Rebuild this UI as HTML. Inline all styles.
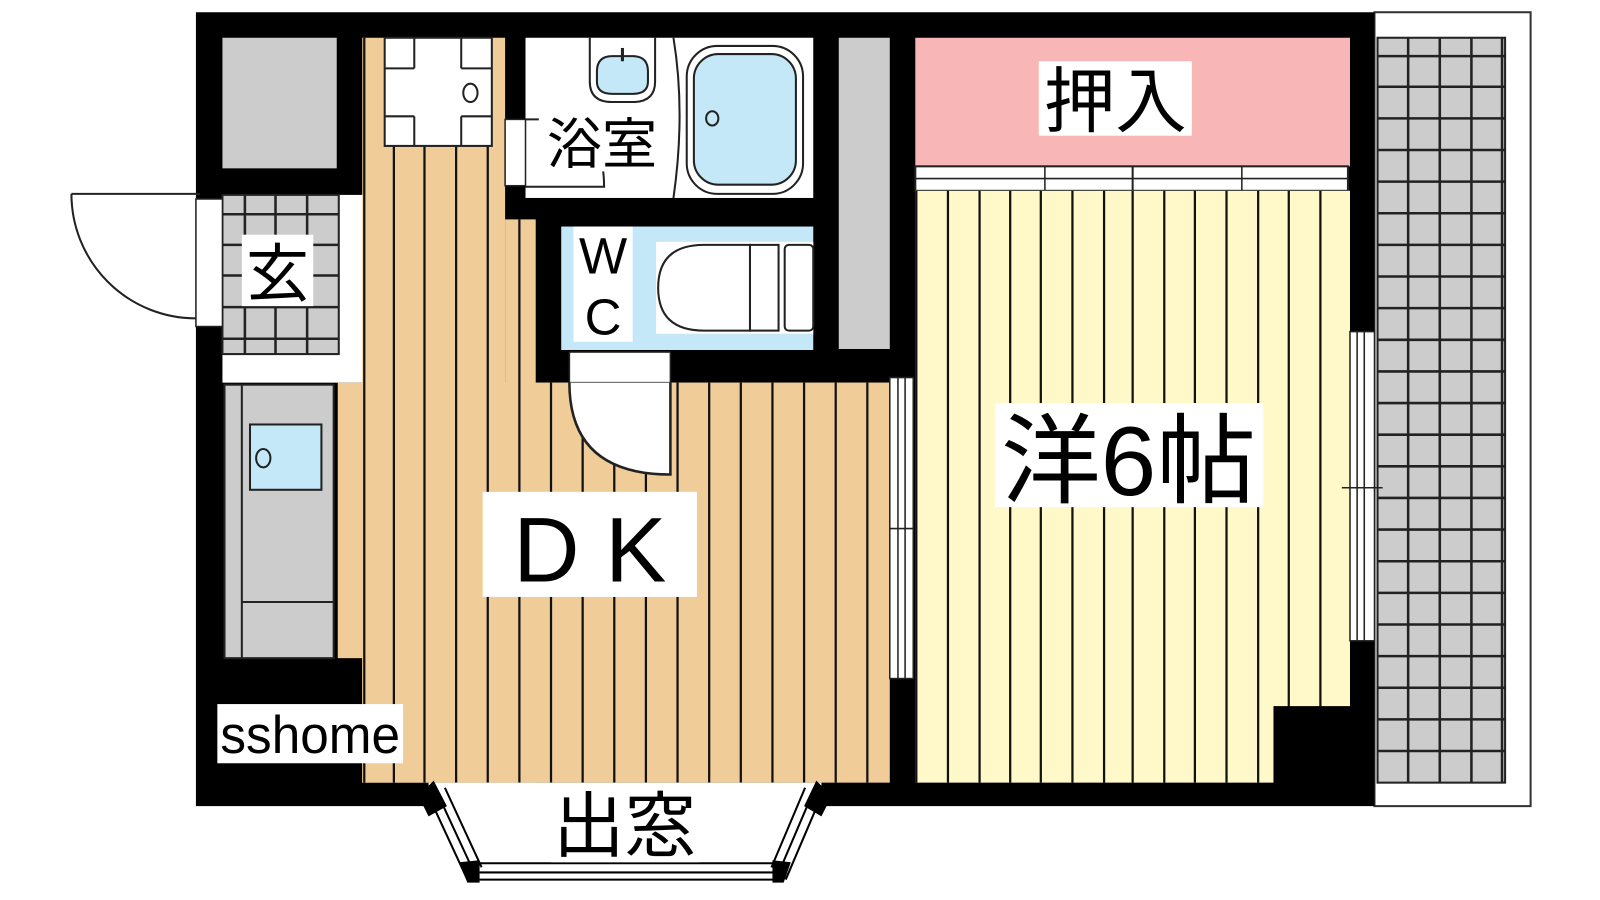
<!DOCTYPE html>
<html><head><meta charset="utf-8"><style>
html,body{margin:0;padding:0;background:#fff;}
svg{display:block}
text{font-family:"Liberation Sans","Noto Sans CJK JP",sans-serif;}
</style></head><body>
<svg width="1600" height="900" viewBox="0 0 1600 900" xmlns="http://www.w3.org/2000/svg">
<rect width="1600" height="900" fill="#fff"/>
<g transform="scale(1.0204)">
<rect x="1347" y="12" width="153" height="778" fill="#fff" stroke="#333" stroke-width="2"/>
<rect x="1350" y="37" width="125" height="730" fill="#ccc" stroke="#222" stroke-width="2"/>
<g stroke="#222" stroke-width="2.5">
<line x1="1380" y1="37" x2="1380" y2="767"/><line x1="1411" y1="37" x2="1411" y2="767"/><line x1="1442" y1="37" x2="1442" y2="767"/><line x1="1472" y1="37" x2="1472" y2="767"/>
</g>
<rect x="192" y="12" width="1155" height="778" fill="#000"/>
<rect x="218" y="37" width="112" height="128" fill="#ccc"/>
<rect x="218" y="191" width="140" height="184" fill="#fff"/>
<rect x="218" y="191" width="114" height="156" fill="#ccc" stroke="#222" stroke-width="2"/>
<g stroke="#222" stroke-width="2.5">
<line x1="240" y1="191" x2="240" y2="347"/><line x1="270" y1="191" x2="270" y2="347"/><line x1="301" y1="191" x2="301" y2="347"/>
<line x1="218" y1="210" x2="332" y2="210"/><line x1="218" y1="240" x2="332" y2="240"/><line x1="218" y1="270" x2="332" y2="270"/><line x1="218" y1="301" x2="332" y2="301"/><line x1="218" y1="332" x2="332" y2="332"/>
</g>
<rect x="192" y="195" width="26" height="125" fill="#fff" stroke="#222" stroke-width="1.5"/>
<path d="M70 190 A122 122 0 0 0 192 312" fill="none" stroke="#222" stroke-width="2"/>
<line x1="70" y1="190" x2="196" y2="190" stroke="#222" stroke-width="2"/>
<rect x="355" y="37" width="140" height="730" fill="#f0cc98"/>
<rect x="495" y="215" width="30" height="552" fill="#f0cc98"/>
<rect x="331" y="375" width="541" height="270" fill="#f0cc98"/>
<rect x="355" y="375" width="517" height="392" fill="#f0cc98"/>
<g stroke="#111" stroke-width="2.2">
<line x1="357" y1="37" x2="357" y2="767"/>
<line x1="386" y1="143" x2="386" y2="767"/><line x1="416" y1="143" x2="416" y2="767"/><line x1="447" y1="143" x2="447" y2="767"/><line x1="478" y1="143" x2="478" y2="767"/>
<line x1="509" y1="215" x2="509" y2="767"/>
<line x1="540" y1="375" x2="540" y2="767"/><line x1="571" y1="375" x2="571" y2="767"/><line x1="602" y1="375" x2="602" y2="767"/><line x1="633" y1="375" x2="633" y2="767"/><line x1="664" y1="375" x2="664" y2="767"/><line x1="695" y1="375" x2="695" y2="767"/><line x1="726" y1="375" x2="726" y2="767"/><line x1="757" y1="375" x2="757" y2="767"/><line x1="788" y1="375" x2="788" y2="767"/><line x1="819" y1="375" x2="819" y2="767"/><line x1="850" y1="375" x2="850" y2="767"/>
</g>
<rect x="377" y="37" width="105" height="106" fill="#fff" stroke="#222" stroke-width="2"/>
<line x1="406" y1="37" x2="406" y2="143" stroke="#222" stroke-width="2"/>
<line x1="452" y1="37" x2="452" y2="143" stroke="#222" stroke-width="2"/>
<rect x="379" y="67" width="100" height="47" fill="#fff"/>
<line x1="377" y1="67" x2="406" y2="67" stroke="#222" stroke-width="2"/><line x1="452" y1="67" x2="482" y2="67" stroke="#222" stroke-width="2"/>
<line x1="377" y1="114" x2="406" y2="114" stroke="#222" stroke-width="2"/><line x1="452" y1="114" x2="482" y2="114" stroke="#222" stroke-width="2"/>
<ellipse cx="461" cy="91" rx="7" ry="9" fill="#fff" stroke="#222" stroke-width="2"/>
<rect x="220" y="377" width="107" height="268" fill="#ccc" stroke="#222" stroke-width="2"/>
<line x1="237" y1="377" x2="237" y2="645" stroke="#222" stroke-width="2"/>
<line x1="237" y1="590" x2="327" y2="590" stroke="#222" stroke-width="2"/>
<rect x="245" y="416" width="70" height="64" fill="#c4e8f8" stroke="#222" stroke-width="2"/>
<ellipse cx="258" cy="449" rx="7" ry="9" fill="none" stroke="#222" stroke-width="2"/>
<rect x="515" y="37" width="282" height="157" fill="#fff"/>
<path d="M578 37 V80 Q578 100 600 100 H620 Q642 100 642 80 V37" fill="none" stroke="#222" stroke-width="2"/>
<path d="M585 70 Q585 55 600 55 H620 Q635 55 635 70 V80 Q635 92 620 92 H600 Q585 92 585 80 Z" fill="#c4e8f8" stroke="#222" stroke-width="2"/>
<line x1="610" y1="47" x2="610" y2="60" stroke="#222" stroke-width="3"/>
<path d="M660 37 Q672 110 660 194" fill="none" stroke="#222" stroke-width="2"/>
<rect x="673" y="45" width="114" height="145" rx="30" fill="#fff" stroke="#222" stroke-width="2"/>
<rect x="680" y="53" width="100" height="128" rx="24" fill="#c4e8f8" stroke="#222" stroke-width="2"/>
<ellipse cx="698" cy="116" rx="6" ry="7" fill="none" stroke="#222" stroke-width="2"/>
<path d="M515 117 H532 Q592 117 592 183 H515" fill="none" stroke="#222" stroke-width="2"/>
<rect x="495" y="117" width="20" height="65" fill="#fff" stroke="#222" stroke-width="1.5"/>
<rect x="550" y="222" width="247" height="121" fill="#c4e8f8"/>
<rect x="643" y="237" width="154" height="90" fill="#fff"/>
<path d="M735 240 H690 Q645 240 645 282 Q645 324 690 324 H735 Z" fill="#fff" stroke="#222" stroke-width="2"/>
<rect x="735" y="240" width="28" height="84" fill="#fff" stroke="#222" stroke-width="2"/>
<rect x="769" y="240" width="28" height="84" rx="4" fill="#fff" stroke="#222" stroke-width="2"/>
<rect x="822" y="37" width="50" height="305" fill="#ccc"/>
<rect x="558" y="345" width="99" height="30" fill="#fff" stroke="#222" stroke-width="1.5"/>
<path d="M558 375 Q558 465 657 465 V375" fill="#fff" stroke="#222" stroke-width="2.5"/>
<rect x="872" y="370" width="23" height="295" fill="#fff" stroke="#222" stroke-width="1.5"/>
<line x1="880" y1="370" x2="880" y2="665" stroke="#222" stroke-width="1.5"/><line x1="887" y1="370" x2="887" y2="665" stroke="#222" stroke-width="1.5"/>
<line x1="872" y1="518" x2="895" y2="518" stroke="#222" stroke-width="1.5"/>
<rect x="897" y="37" width="426" height="126" fill="#f9b6b6"/>
<rect x="897" y="163" width="424" height="24" fill="#fff" stroke="#222" stroke-width="2"/>
<line x1="897" y1="175" x2="1321" y2="175" stroke="#222" stroke-width="1.5"/>
<line x1="1110" y1="163" x2="1110" y2="187" stroke="#222" stroke-width="2"/>
<line x1="1024" y1="163" x2="1024" y2="187" stroke="#222" stroke-width="1.5"/><line x1="1217" y1="163" x2="1217" y2="187" stroke="#222" stroke-width="1.5"/>
<rect x="897" y="187" width="426" height="580" fill="#fff8c8"/>
<g stroke="#111" stroke-width="2.2">
<line x1="898" y1="187" x2="898" y2="767"/>
<line x1="929" y1="187" x2="929" y2="767"/><line x1="960" y1="187" x2="960" y2="767"/><line x1="990" y1="187" x2="990" y2="767"/><line x1="1020" y1="187" x2="1020" y2="767"/><line x1="1051" y1="187" x2="1051" y2="767"/><line x1="1082" y1="187" x2="1082" y2="767"/><line x1="1110" y1="187" x2="1110" y2="767"/><line x1="1141" y1="187" x2="1141" y2="767"/><line x1="1171" y1="187" x2="1171" y2="767"/><line x1="1202" y1="187" x2="1202" y2="767"/><line x1="1233" y1="187" x2="1233" y2="767"/><line x1="1263" y1="187" x2="1263" y2="767"/><line x1="1294" y1="187" x2="1294" y2="767"/>
</g>
<rect x="1248" y="692" width="76" height="76" fill="#000"/>
<rect x="1323" y="325" width="24" height="303" fill="#fff" stroke="#222" stroke-width="1.5"/>
<line x1="1330" y1="325" x2="1330" y2="628" stroke="#222" stroke-width="1.5"/><line x1="1337" y1="325" x2="1337" y2="628" stroke="#222" stroke-width="1.5"/>
<line x1="1315" y1="478" x2="1355" y2="478" stroke="#222" stroke-width="1.5"/>
<g stroke="#222" stroke-width="2.5">
<line x1="1350" y1="55" x2="1475" y2="55"/><line x1="1350" y1="85" x2="1475" y2="85"/><line x1="1350" y1="116" x2="1475" y2="116"/><line x1="1350" y1="147" x2="1475" y2="147"/><line x1="1350" y1="178" x2="1475" y2="178"/><line x1="1350" y1="209" x2="1475" y2="209"/><line x1="1350" y1="240" x2="1475" y2="240"/><line x1="1350" y1="271" x2="1475" y2="271"/><line x1="1350" y1="302" x2="1475" y2="302"/><line x1="1350" y1="333" x2="1475" y2="333"/><line x1="1350" y1="364" x2="1475" y2="364"/><line x1="1350" y1="395" x2="1475" y2="395"/><line x1="1350" y1="426" x2="1475" y2="426"/><line x1="1350" y1="457" x2="1475" y2="457"/><line x1="1350" y1="488" x2="1475" y2="488"/><line x1="1350" y1="519" x2="1475" y2="519"/><line x1="1350" y1="550" x2="1475" y2="550"/><line x1="1350" y1="581" x2="1475" y2="581"/><line x1="1350" y1="612" x2="1475" y2="612"/><line x1="1350" y1="643" x2="1475" y2="643"/><line x1="1350" y1="674" x2="1475" y2="674"/><line x1="1350" y1="705" x2="1475" y2="705"/><line x1="1350" y1="736" x2="1475" y2="736"/>
</g>
<rect x="420" y="767" width="385" height="24" fill="#fff"/>
<g stroke="#000" stroke-width="2" fill="none">
<line x1="420" y1="780" x2="458" y2="862"/><line x1="428" y1="776" x2="466" y2="858"/><line x1="436" y1="772" x2="472" y2="850"/>
<line x1="805" y1="780" x2="770" y2="862"/><line x1="797" y1="776" x2="762" y2="858"/><line x1="789" y1="772" x2="756" y2="850"/>
<line x1="470" y1="846" x2="760" y2="846"/><line x1="470" y1="855" x2="760" y2="855"/><line x1="470" y1="862" x2="760" y2="862"/>
</g>
<polygon points="410,780 425,765 438,790 420,800" fill="#000"/>
<polygon points="815,780 800,765 788,790 805,800" fill="#000"/>
<polygon points="450,845 470,843 470,865 458,865" fill="#000"/>
<polygon points="775,845 757,843 757,865 768,865" fill="#000"/>
<rect x="1018" y="60" width="150" height="73" fill="#fff"/>
<text x="1093" y="124" font-size="70" text-anchor="middle">押入</text>
<rect x="975" y="395" width="263" height="102" fill="#fff"/>
<text x="1106" y="485" font-size="96" text-anchor="middle" textLength="250" lengthAdjust="spacingAndGlyphs">洋6帖</text>
<rect x="473" y="482" width="210" height="103" fill="#fff"/>
<text x="578" y="570" font-size="90" text-anchor="middle">D K</text>
<rect x="528" y="108" width="122" height="60" fill="#fff"/>
<text x="590" y="160" font-size="54" text-anchor="middle">浴室</text>
<rect x="562" y="222" width="58" height="113" fill="#fff"/>
<text x="591" y="268" font-size="50" text-anchor="middle">W</text>
<text x="591" y="328" font-size="50" text-anchor="middle">C</text>
<rect x="237" y="230" width="70" height="70" fill="#fff"/>
<text x="272" y="290" font-size="62" text-anchor="middle">玄</text>
<rect x="213" y="690" width="182" height="58" fill="#fff"/>
<text x="304" y="738" font-size="52" text-anchor="middle" textLength="176" lengthAdjust="spacingAndGlyphs">sshome</text>
<rect x="540" y="775" width="145" height="70" fill="#fff"/>
<text x="612" y="834" font-size="70" text-anchor="middle">出窓</text>
</g>
</svg>
</body></html>
